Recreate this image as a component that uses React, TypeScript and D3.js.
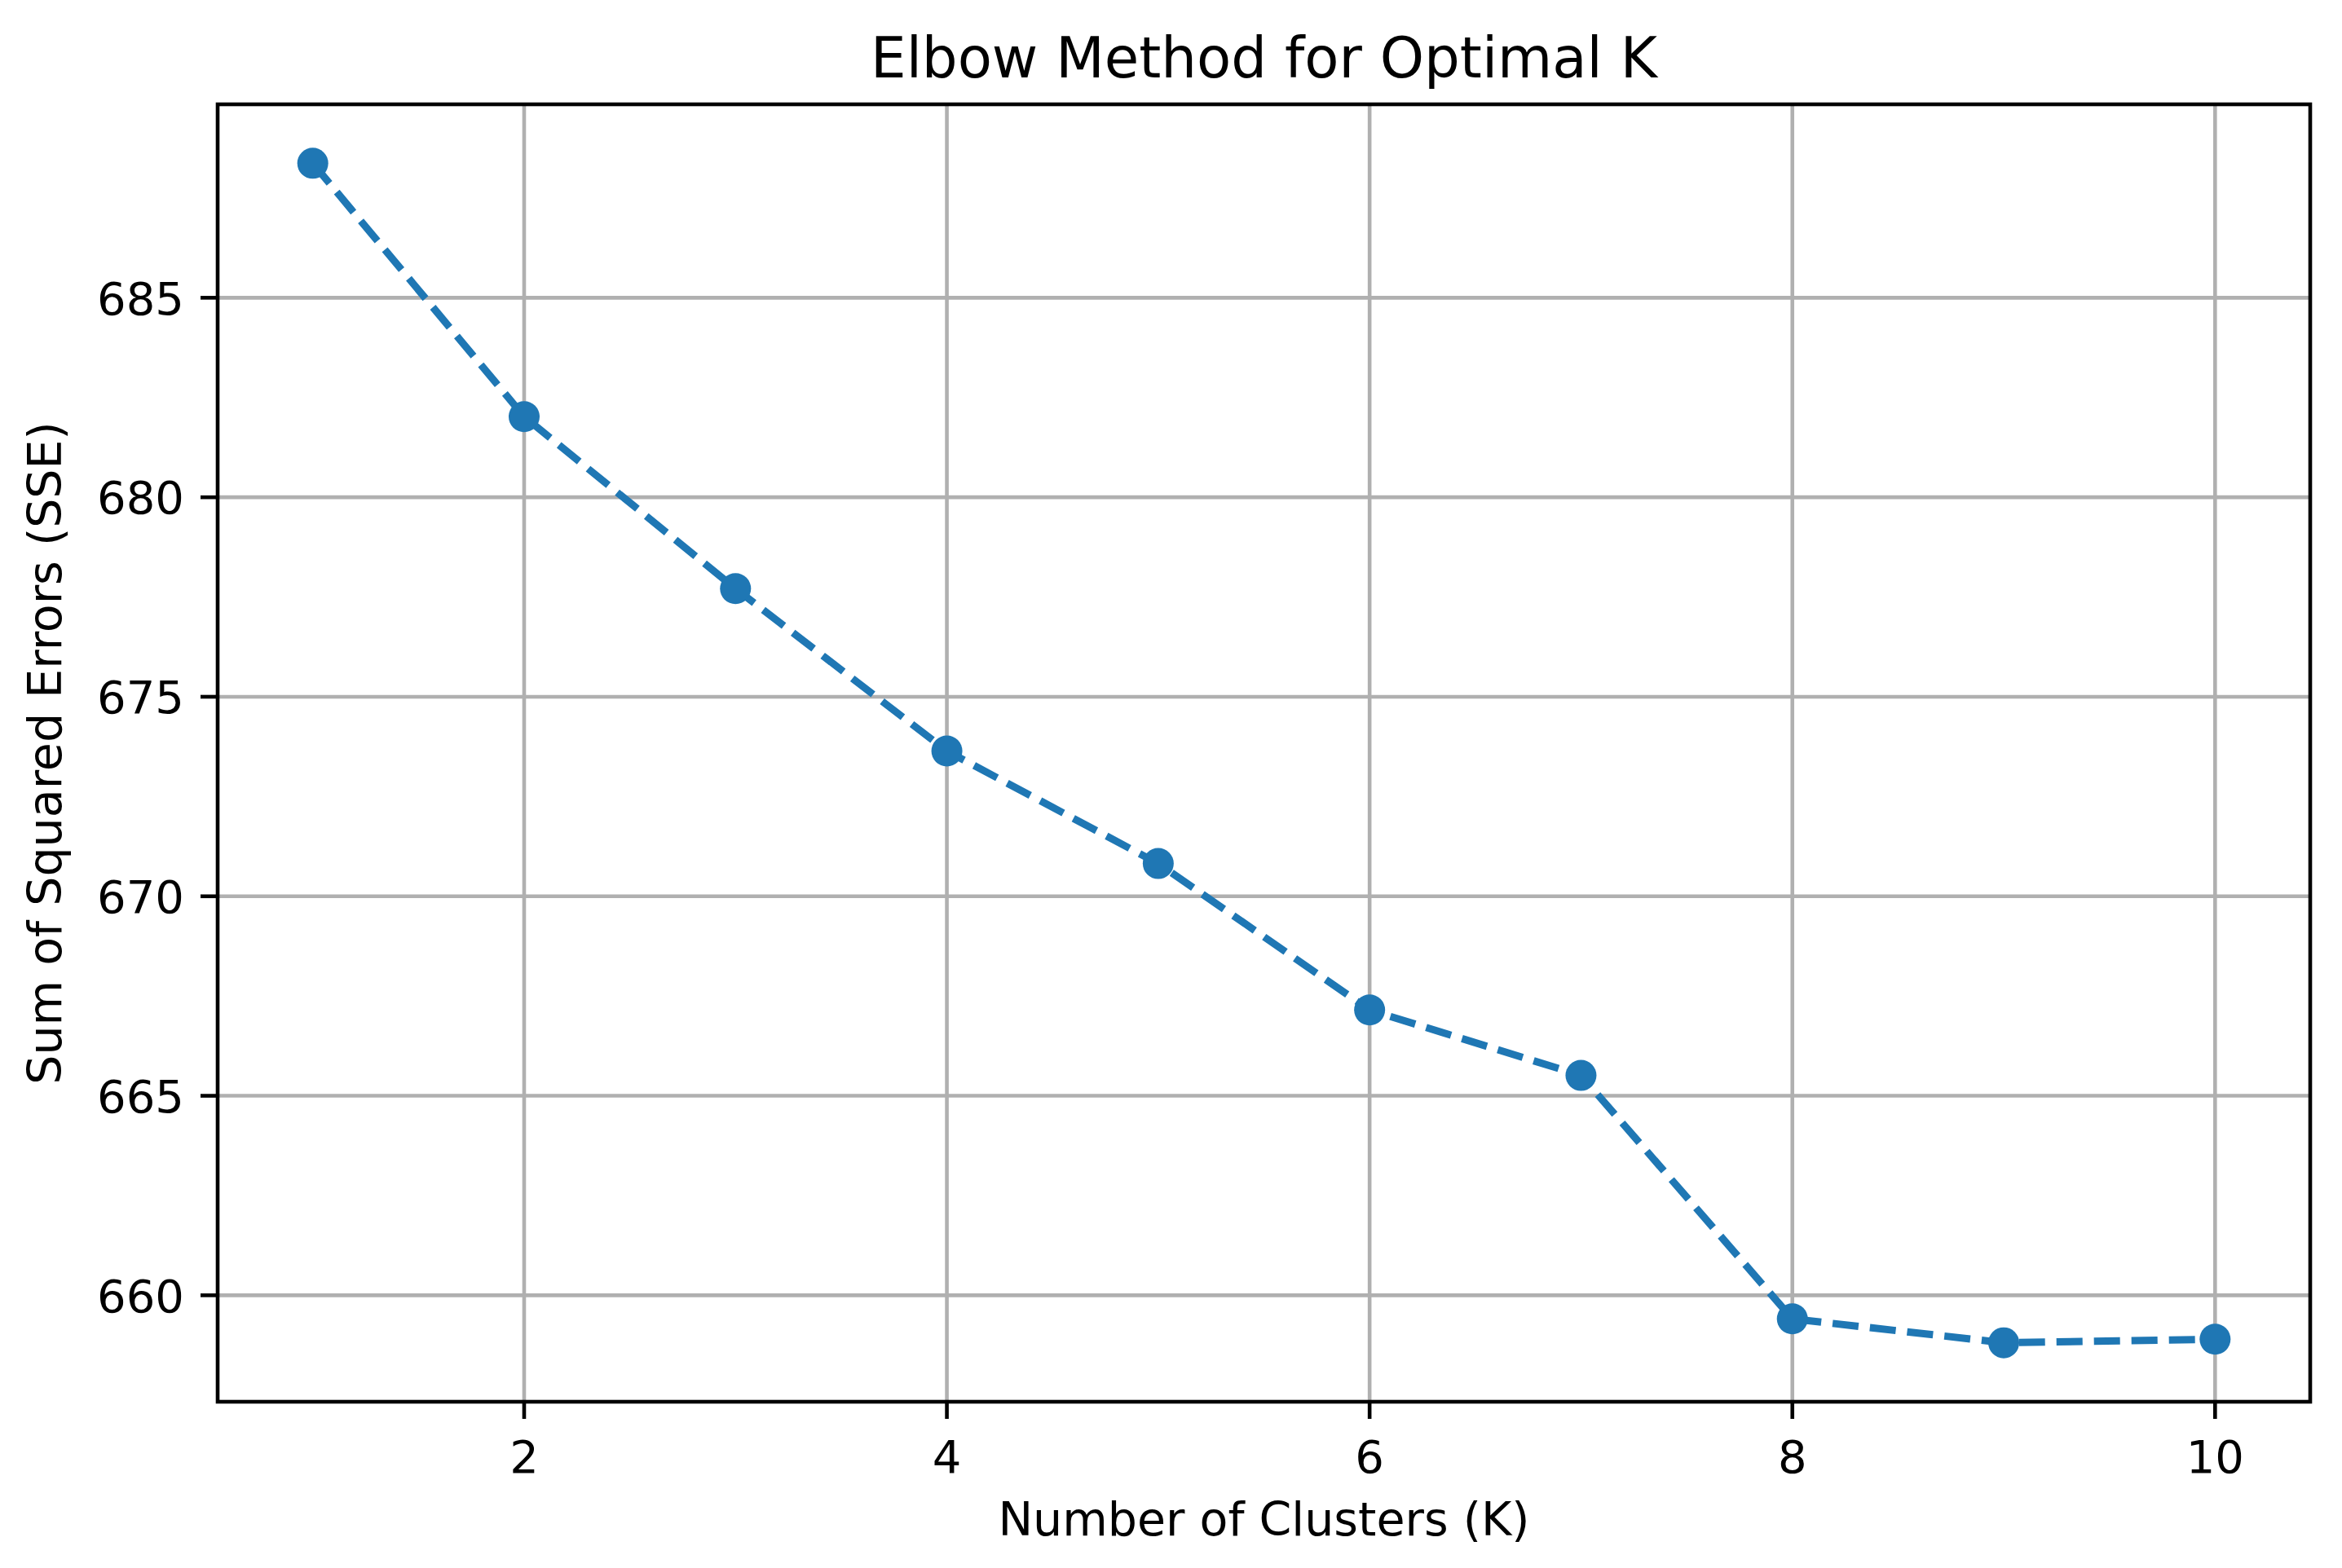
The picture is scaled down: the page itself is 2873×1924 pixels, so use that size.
import React from "react";
import * as d3 from "d3";

const kValues = [1, 2, 3, 4, 5, 6, 7, 8, 9, 10];
const sseValues = [688.37, 682.02, 677.71, 673.64, 670.82, 667.15, 665.51, 659.41, 658.81, 658.9];
const xTicks = [2, 4, 6, 8, 10];
const yTicks = [660, 665, 670, 675, 680, 685];

const W = 2873;
const H = 1924;
const M = { left: 267, right: 2834, top: 128, bottom: 1720 };
const FONT = "'DejaVu Sans', sans-serif";
const BLUE = "#1f77b4";

function padDomain(vals: number[], frac: number): [number, number] {
  const [lo, hi] = d3.extent(vals) as [number, number];
  const m = (hi - lo) * frac;
  return [lo - m, hi + m];
}

export default function App() {
  const x = d3.scaleLinear().domain(padDomain(kValues, 0.05)).range([M.left, M.right]);
  const y = d3.scaleLinear().domain(padDomain(sseValues, 0.05)).range([M.bottom, M.top]);
  const pts: [number, number][] = kValues.map((k, i) => [x(k), y(sseValues[i])]);
  const line = d3.line()(pts) || "";
  const gridW = 4.6;
  const tickLen = 21;

  return (
    <svg
      width={W}
      height={H}
      style={{ position: "absolute", left: 0, top: 0, display: "block", background: "#fff" }}
    >
      <rect x={0} y={0} width={W} height={H} fill="#fff" />
      {/* grid */}
      <g stroke="#b0b0b0" strokeWidth={gridW}>
        {xTicks.map((t) => (
          <line key={"gx" + t} x1={x(t)} x2={x(t)} y1={M.top} y2={M.bottom} />
        ))}
        {yTicks.map((t) => (
          <line key={"gy" + t} x1={M.left} x2={M.right} y1={y(t)} y2={y(t)} />
        ))}
      </g>
      {/* data line */}
      <path d={line} fill="none" stroke={BLUE} strokeWidth={9} strokeDasharray="32,14" />
      {pts.map(([px, py], i) => (
        <circle key={"p" + i} cx={px} cy={py} r={19} fill={BLUE} />
      ))}
      {/* spines */}
      <rect
        x={M.left}
        y={M.top}
        width={M.right - M.left}
        height={M.bottom - M.top}
        fill="none"
        stroke="#000"
        strokeWidth={4.6}
      />
      {/* x ticks */}
      <g>
        {xTicks.map((t) => (
          <g key={"xt" + t}>
            <line x1={x(t)} x2={x(t)} y1={M.bottom} y2={M.bottom + tickLen} stroke="#000" strokeWidth={4.6} />
            <text x={x(t)} y={1807} textAnchor="middle" fontFamily={FONT} fontSize={56} fill="#000">
              {t}
            </text>
          </g>
        ))}
      </g>
      {/* y ticks */}
      <g>
        {yTicks.map((t) => (
          <g key={"yt" + t}>
            <line x1={M.left - tickLen} x2={M.left} y1={y(t)} y2={y(t)} stroke="#000" strokeWidth={4.6} />
            <text
              x={M.left - tickLen - 20}
              y={y(t)}
              dy="0.36em"
              textAnchor="end"
              fontFamily={FONT}
              fontSize={56}
              fill="#000"
            >
              {t}
            </text>
          </g>
        ))}
      </g>
      {/* labels */}
      <text x={(M.left + M.right) / 2} y={1884} textAnchor="middle" fontFamily={FONT} fontSize={57} fill="#000">
        Number of Clusters (K)
      </text>
      <text
        transform={`translate(75, ${(M.top + M.bottom) / 2}) rotate(-90)`}
        textAnchor="middle"
        fontFamily={FONT}
        fontSize={57}
        fill="#000"
      >
        Sum of Squared Errors (SSE)
      </text>
      <text x={(M.left + M.right) / 2} y={95} textAnchor="middle" fontFamily={FONT} fontSize={69} fill="#000">
        Elbow Method for Optimal K
      </text>
    </svg>
  );
}
